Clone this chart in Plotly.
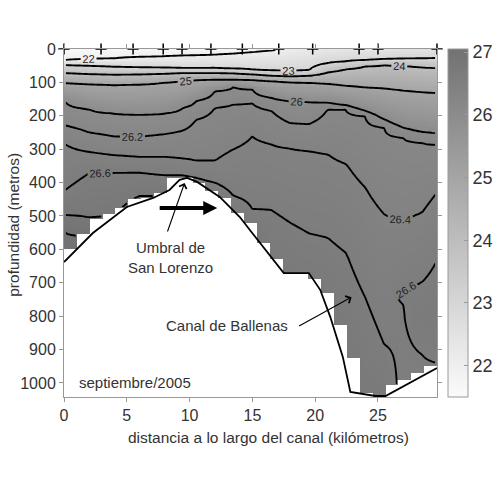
import numpy as np
import plotly.graph_objects as go

N = None

# ---- data ----
stations_km = [0, 2.95, 5.5, 7.9, 9.4, 11.7, 14.2, 17.1, 19.8, 23.5, 25.0, 29.7]

col_km = [0, 2, 4, 6, 8, 9.5, 10.5, 12, 13.5, 15, 16.5, 18, 19.5, 21, 22.5, 24, 25.5, 27, 28.5, 29.7]
surface_sigma = [21.6, 21.6, 21.65, 21.65, 21.7, 21.7, 21.7, 21.7, 21.75, 21.8, 21.9, 22.1, 22.2, 22.3, 22.35, 22.4, 22.4, 22.45, 22.45, 22.5]
depth_22 = [33, 31, 28, 24, 22, 20, 19, 17, 14, 9, 4, N, N, N, N, N, N, N, N, N]
depth_23 = [48, 50, 53, 55, 56, 57, 57, 57, 59, 62, 65, 67, 64, 42, 37, 33, 31, 29, 28, 27]
depth_24 = [72, 75, 77, 76, 74, 72, 72, 72, 73, 76, 80, 82, 80, 70, 60, 52, 48, 50, 54, 57]
depth_25 = [102, 105, 108, 106, 100, 95, 93, 92, 92, 93, 96, 99, 101, 104, 110, 115, 118, 124, 129, 132]
depth_26 = [153, 180, 193, 197, 193, 175, 155, 125, 112, 120, 145, 155, 158, 160, 168, 185, 210, 235, 248, 252]
depth_262 = [228, 250, 262, 263, 255, 244, 212, 176, 166, 163, 185, 222, 225, 180, 182, 200, 235, 265, 280, 287]
depth_264 = [282, 308, 318, 323, 323, 328, 335, 335, 300, 262, 285, 298, 305, 315, 345, 415, 495, 515, 490, 430]
depth_266 = [425, 372, 370, 370, 378, 378, 385, 400, 440, 480, 482, 520, 552, 565, 612, 745, 885, N, N, N]
depth_268 = [497, 505, 500, 440, 440, 450, 460, 480, 520, 560, 700, 760, 800, 850, 1000, 1150, 1150, N, N, N]
depth_27 = [540, 560, 560, 520, 520, 530, 540, 560, 600, 640, 760, 820, 880, 920, 1080, 1250, 1250, N, N, N]
tongue_top = [N] * 17 + [722, 698, 632]
tongue_bot = [N] * 17 + [765, 915, 940]
tongue_core = [N] * 17 + [26.63, 26.68, 26.7]
deep_sigma = [27.2] * 17 + [26.5, 26.5, 26.5]

levels = [22, 23, 24, 25, 26, 26.2, 26.4, 26.6, 26.8, 27]
level_depths = [depth_22, depth_23, depth_24, depth_25, depth_26, depth_262,
                depth_264, depth_266, depth_268, depth_27]

# deepest sampled depth in each ~1 km data column (29 columns, 0-29.7 km)
column_bottom_m = [602, 557, 512, 497, 473, 452, 443, 428, 383, 385, 400, 425, 446, 488,
                   521, 581, 630, 671, 671, 690, 728, 826, 925, 1030, 1045, 1006, 991, 970, 952]

# bathymetry line
bathy_km = [0, 2.3, 5.0, 7.1, 8.4, 9.2, 9.8, 10.6, 12.4, 14.0, 14.8, 17.5, 19.5, 20.4,
            21.2, 22.2, 22.8, 24.8, 25.6, 29.7]
bathy_m = [638, 551, 473, 446, 422, 392, 386, 398, 443, 503, 542, 671, 671, 721,
           802, 922, 1027, 1039, 1039, 955]

colorbar_ticks = [22, 23, 24, 25, 26, 27]
x_ticks = [0, 5, 10, 15, 20, 25]
y_ticks = [0, 100, 200, 300, 400, 500, 600, 700, 800, 900, 1000]

# ---- build the gridded section ----
XMAX = 29.7
DMAX = 1045
dz = 5
z_edges = np.arange(0, DMAX + dz, dz)
z_cent = 0.5 * (z_edges[:-1] + z_edges[1:])

ncol = len(column_bottom_m)
col_edges = np.linspace(0, XMAX, ncol + 1)
sub = 4
x_edges = np.concatenate([np.linspace(col_edges[i], col_edges[i + 1], sub + 1)[:-1]
                          for i in range(ncol)] + [[XMAX]])
x_cent = 0.5 * (x_edges[:-1] + x_edges[1:])

prof = np.zeros((len(z_cent), len(col_km)))
for i in range(len(col_km)):
    nodes = [(0.0, surface_sigma[i])]
    for lev, arr in zip(levels, level_depths):
        if arr[i] is not None:
            nodes.append((float(arr[i]), lev))
    if tongue_top[i] is not None:
        nodes += [(tongue_top[i], 26.6),
                  (0.5 * (tongue_top[i] + tongue_bot[i]), tongue_core[i]),
                  (tongue_bot[i], 26.6)]
    nodes.append((1300.0, deep_sigma[i]))
    nodes.sort()
    d = [n[0] for n in nodes]
    v = [n[1] for n in nodes]
    prof[:, i] = np.interp(z_cent, d, v)

field = np.array([np.interp(x_cent, col_km, prof[k]) for k in range(len(z_cent))])
for j, xc in enumerate(x_cent):
    c = min(int(j // sub), ncol - 1)
    field[z_cent > column_bottom_m[c], j] = np.nan

FONT = "Liberation Sans, Arial, Helvetica, sans-serif"
TXT = "#333333"

fig = go.Figure()
fig.add_trace(go.Heatmap(
    x=x_edges, y=z_edges, z=field, zmin=21.5, zmax=27.05,
    colorscale=[[0, "#fbfbfb"], [1, "#727272"]],
    hoverinfo="skip",
    colorbar=dict(x=1.03, xanchor="left", xpad=0, y=0.5, yanchor="middle",
                  len=1, lenmode="fraction", thickness=20, ypad=0,
                  outlinewidth=1, outlinecolor="#999999",
                  tickvals=colorbar_ticks, ticks="inside", ticklen=4, tickcolor="#999999",
                  tickfont=dict(family=FONT, size=18, color=TXT)),
))
for start, end, size in [(22, 25, 1), (26, 27, 0.2)]:
    fig.add_trace(go.Contour(
        x=x_cent, y=z_cent, z=field, showscale=False, hoverinfo="skip",
        autocontour=False,
        contours=dict(start=start, end=end + 1e-6, size=size, coloring="none",
                      showlabels=True,
                      labelfont=dict(family=FONT, size=11, color="#222222")),
        line=dict(color="black", width=1.9),
    ))
fig.add_trace(go.Scatter(x=bathy_km, y=bathy_m, mode="lines",
                         line=dict(color="black", width=1.8), hoverinfo="skip",
                         showlegend=False))
fig.add_trace(go.Scatter(x=stations_km, y=[0] * len(stations_km), mode="markers",
                         marker=dict(symbol="cross-thin", size=8, line=dict(color="black", width=1.5)),
                         cliponaxis=False, hoverinfo="skip", showlegend=False))

ann_font = dict(family=FONT, size=15, color=TXT)
fig.add_annotation(x=8.45, y=623, text="Umbral de<br>San Lorenzo", showarrow=False, font=ann_font)
fig.add_annotation(x=9.6, y=401, ax=8.2, ay=551, axref="x", ayref="y", text="",
                   showarrow=True, arrowhead=4, arrowsize=1.4, arrowwidth=1.1, arrowcolor="black")
fig.add_annotation(x=12.2, y=476, ax=7.5, ay=476, axref="x", ayref="y", text="",
                   showarrow=True, arrowhead=2, arrowsize=0.7, arrowwidth=4, arrowcolor="black")
fig.add_annotation(x=13.0, y=829, text="Canal de Ballenas", showarrow=False, font=ann_font)
fig.add_annotation(x=22.9, y=743, ax=18.6, ay=832, axref="x", ayref="y", text="",
                   showarrow=True, arrowhead=4, arrowsize=1.4, arrowwidth=1.1, arrowcolor="black")
fig.add_annotation(x=5.66, y=1000, text="septiembre/2005", showarrow=False, font=ann_font)

# axis titles
fig.add_annotation(xref="paper", yref="paper", x=0.547, y=-0.115, xanchor="center", yanchor="middle",
                   text="distancia a lo largo del canal (kilómetros)", showarrow=False,
                   font=dict(family=FONT, size=15.5, color=TXT))
fig.add_annotation(xref="paper", yref="paper", x=-0.134, y=0.495, xanchor="center", yanchor="middle",
                   text="profundidad (metros)", textangle=-90, showarrow=False,
                   font=dict(family=FONT, size=15.5, color=TXT))

axis_common = dict(showline=True, linecolor="#999999", linewidth=1, mirror="ticks",
                   ticks="outside", ticklen=4, tickcolor="#999999", showgrid=False,
                   zeroline=False, automargin=False,
                   tickfont=dict(family=FONT, size=16, color=TXT))
fig.update_xaxes(range=[0, XMAX], tickvals=x_ticks, **axis_common)
fig.update_yaxes(range=[1042, 0], tickvals=y_ticks, **axis_common)
fig.update_layout(width=500, height=488,
                  margin=dict(l=64, r=63, t=49, b=91, autoexpand=False),
                  paper_bgcolor="white", plot_bgcolor="white", showlegend=False)
fig.write_html("out.html", config={"displayModeBar": False},
               post_script="document.body.style.margin='0px';")
